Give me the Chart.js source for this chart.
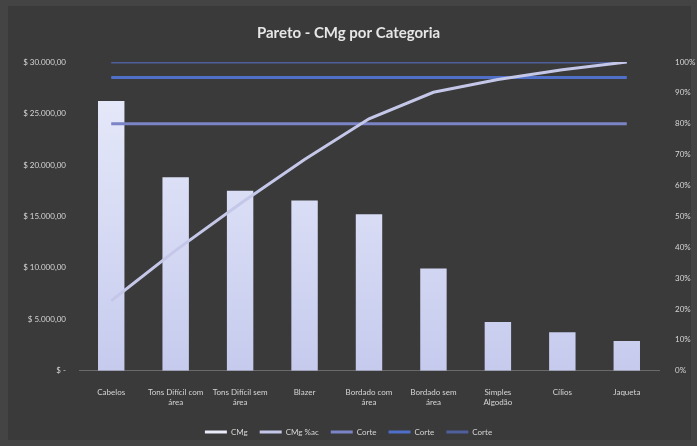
<!DOCTYPE html>
<html>
<head>
<meta charset="utf-8">
<script src="https://cdn.jsdelivr.net/npm/chart.js@4/dist/chart.umd.min.js"></script>
<style>
  html, body { margin: 0; padding: 0; background: #444444; }
  #wrap { width: 697px; height: 446px; }
</style>
</head>
<body>
<div id="wrap"><canvas id="c" width="697" height="446"></canvas></div>
<script>
// Categories and contribution margin per category
const categories = [
  'Cabelos', ['Tons Difícil com', 'área'], ['Tons Difícil sem', 'área'], 'Blazer',
  ['Bordado com', 'área'], ['Bordado sem', 'área'], ['Simples', 'Algodão'], 'Cílios', 'Jaqueta'
];
const cmgValues = [26200, 18800, 17500, 16550, 15200, 9950, 4750, 3750, 2900];
// Cumulative share (right axis)
const cmgAccPct = [0.227, 0.390, 0.541, 0.684, 0.816, 0.902, 0.943, 0.975, 1.0];
// Cut-off reference lines
const corte80 = [0.8, 0.8, 0.8, 0.8, 0.8, 0.8, 0.8, 0.8, 0.8];
const corte95 = [0.95, 0.95, 0.95, 0.95, 0.95, 0.95, 0.95, 0.95, 0.95];
const corte100 = [1, 1, 1, 1, 1, 1, 1, 1, 1];
const leftTicks = [0, 5000, 10000, 15000, 20000, 25000, 30000];

const FONT = 'Lato, "Open Sans", sans-serif';
const TXT = '#d6d6d6';

function money(v) {
  if (v === 0) return '$ -';
  return '$ ' + v.toLocaleString('pt-BR', { minimumFractionDigits: 2, maximumFractionDigits: 2 });
}

const bgPlugin = {
  id: 'bg',
  beforeDraw(chart) {
    const ctx = chart.ctx;
    ctx.save();
    ctx.fillStyle = '#444444';
    ctx.fillRect(0, 0, chart.width, chart.height);
    ctx.fillStyle = '#3a3a3a';
    ctx.fillRect(8, 6, chart.width - 14, chart.height - 12);
    ctx.restore();
  }
};

function barGradient(context) {
  const chart = context.chart;
  const area = chart.chartArea;
  if (!area) return '#dfe2f6';
  const g = chart.ctx.createLinearGradient(0, area.top, 0, area.bottom);
  g.addColorStop(0, '#e9ecfa');
  g.addColorStop(1, '#c6cbee');
  return g;
}

const solid = ['#e9ebf8', '#c4c7e8', '#7a84c6', '#4f6fc8', '#4f5f9e'];

new Chart(document.getElementById('c'), {
  data: {
    labels: categories,
    datasets: [
      { type: 'bar', label: 'CMg', data: cmgValues, yAxisID: 'y',
        backgroundColor: barGradient, borderWidth: 0,
        categoryPercentage: 1.0, barPercentage: 0.41, order: 5 },
      { type: 'line', label: 'CMg %ac', data: cmgAccPct, yAxisID: 'y1',
        borderColor: '#c4c7e8', borderWidth: 3, pointRadius: 0, tension: 0, order: 1 },
      { type: 'line', label: 'Corte', data: corte80, yAxisID: 'y1',
        borderColor: '#7a84c6', borderWidth: 3, pointRadius: 0, order: 2 },
      { type: 'line', label: 'Corte', data: corte95, yAxisID: 'y1',
        borderColor: '#4f6fc8', borderWidth: 3, pointRadius: 0, order: 3 },
      { type: 'line', label: 'Corte', data: corte100, yAxisID: 'y1',
        borderColor: '#4f5f9e', borderWidth: 3, pointRadius: 0, order: 4 }
    ]
  },
  options: {
    responsive: false,
    animation: false,
    layout: { padding: { left: 0, right: 0, top: 0, bottom: 0 } },
    plugins: {
      title: {
        display: true,
        text: 'Pareto - CMg por Categoria',
        color: '#e6e6e6',
        font: { family: FONT, size: 15, weight: 'bold' },
        padding: { top: 24, bottom: 20 }
      },
      legend: {
        position: 'bottom',
        labels: {
          color: TXT,
          font: { family: FONT, size: 8 },
          boxWidth: 22,
          boxHeight: 3,
          padding: 12,
          generateLabels(chart) {
            return chart.data.datasets.map((ds, i) => ({
              text: ds.label,
              fillStyle: solid[i],
              strokeStyle: solid[i],
              lineWidth: 0,
              fontColor: TXT,
              datasetIndex: i,
              hidden: false
            }));
          }
        }
      },
      tooltip: { enabled: false }
    },
    scales: {
      x: {
        grid: { display: false },
        border: { color: '#6a6a6a' },
        ticks: { color: TXT, font: { family: FONT, size: 8 }, maxRotation: 0, autoSkip: false, padding: 9 }
      },
      y: {
        position: 'left',
        min: 0, max: 30000,
        afterFit(scale) { scale.width = 79; },
        afterBuildTicks(scale) { scale.ticks = leftTicks.map(v => ({ value: v })); },
        grid: { display: false },
        border: { display: false },
        ticks: { color: TXT, font: { family: FONT, size: 8 }, padding: 5, callback: v => money(v) }
      },
      y1: {
        position: 'right',
        min: 0, max: 1,
        afterFit(scale) { scale.width = 38; },
        grid: { display: false },
        border: { display: false },
        ticks: { color: TXT, font: { family: FONT, size: 8 }, stepSize: 0.1, padding: 8,
          callback: v => Math.round(v * 100) + '%' }
      }
    }
  },
  plugins: [bgPlugin]
});
</script>
</body>
</html>
